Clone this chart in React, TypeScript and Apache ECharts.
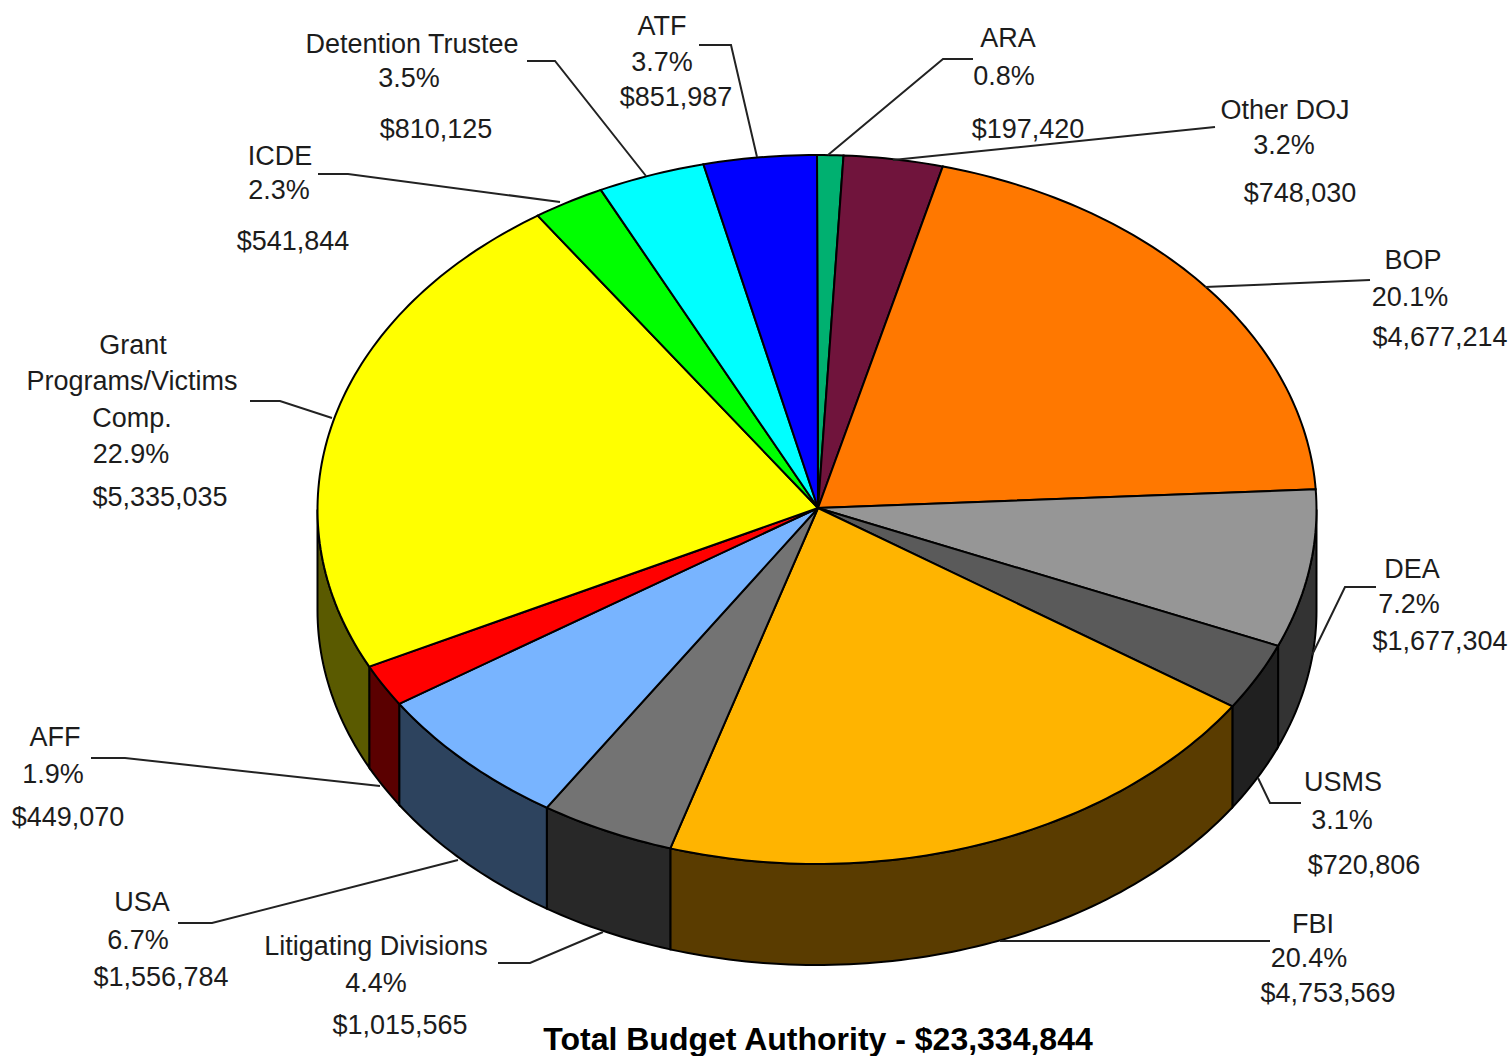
import React, { useEffect, useRef } from "react";
import * as echarts from "echarts";

const agencies = ["ARA", "Other DOJ", "BOP", "DEA", "USMS", "FBI", "Litigating Divisions", "USA", "AFF", "Grant Programs/Victims Comp.", "ICDE", "Detention Trustee", "ATF"];
const budget = [197420, 748030, 4677214, 1677304, 720806, 4753569, 1015565, 1556784, 449070, 5335035, 541844, 810125, 851987];
const topColors = ["#00b070", "#70143c", "#ff7800", "#969696", "#5a5a5a", "#ffb400", "#737373", "#78b4ff", "#ff0000", "#ffff00", "#00ff00", "#00ffff", "#0000ff"];
const wallColors = ["#005a38", "#380a1e", "#5a2d00", "#333333", "#202020", "#5a3c00", "#282828", "#2d435e", "#5a0000", "#5a5a00", "#006000", "#006060", "#000060"];
const title = "Total Budget Authority - $23,334,844";

const CX = 817, CY = 509.5, RX = 499.5, RY = 354.5, DEPTH = 101;

// [text, centre x, centre y]
const labelLines: [string, number, number][] = [
  ["Detention Trustee", 412, 44], ["3.5%", 409, 78], ["$810,125", 436, 129],
  ["ATF", 662, 26], ["3.7%", 662, 62], ["$851,987", 676, 97],
  ["ARA", 1008, 38], ["0.8%", 1004, 76], ["$197,420", 1028, 129],
  ["Other DOJ", 1285, 110], ["3.2%", 1284, 145], ["$748,030", 1300, 193],
  ["BOP", 1413, 260], ["20.1%", 1410, 297], ["$4,677,214", 1440, 337],
  ["DEA", 1412, 569], ["7.2%", 1409, 604], ["$1,677,304", 1440, 641],
  ["USMS", 1343, 782], ["3.1%", 1342, 820], ["$720,806", 1364, 865],
  ["FBI", 1313, 924], ["20.4%", 1309, 958], ["$4,753,569", 1328, 993],
  ["Litigating Divisions", 376, 946], ["4.4%", 376, 983], ["$1,015,565", 400, 1025],
  ["USA", 142, 902], ["6.7%", 138, 940], ["$1,556,784", 161, 977],
  ["AFF", 55, 737], ["1.9%", 53, 774], ["$449,070", 68, 817],
  ["Grant", 133, 345], ["Programs/Victims", 132, 381], ["Comp.", 132, 418], ["22.9%", 131, 454], ["$5,335,035", 160, 497],
  ["ICDE", 280, 156], ["2.3%", 279, 190], ["$541,844", 293, 241],
];

const leaders: number[][][] = [
  [[527, 61], [555, 61], [646, 176]],
  [[699, 45], [731, 45], [757, 157]],
  [[828, 155], [943, 59], [973, 59]],
  [[893, 160], [1215, 127]],
  [[1205, 287], [1370, 280]],
  [[1312, 655], [1345, 587], [1376, 587]],
  [[1258, 778], [1270, 803], [1301, 803]],
  [[1000, 941], [1270, 941]],
  [[498, 963], [530, 963], [603, 932]],
  [[178, 923], [212, 923], [458, 860]],
  [[91, 758], [125, 758], [380, 786]],
  [[250, 401], [280, 401], [332, 418]],
  [[318, 174], [348, 174], [560, 202]],
];

const total = budget.reduce((a, b) => a + b, 0);
const startShare = (i: number) => budget.slice(0, i).reduce((a, b) => a + b, 0) / total;
const pt = (deg: number, dy = 0) => {
  const r = (deg * Math.PI) / 180;
  return [CX + RX * Math.sin(r), CY - RY * Math.cos(r) + dy];
};
const arc = (a: number, b: number, dy = 0) => {
  const out: number[][] = [];
  const n = Math.max(2, Math.ceil(Math.abs(b - a)));
  for (let k = 0; k <= n; k++) out.push(pt(a + ((b - a) * k) / n, dy));
  return out;
};

export default function App() {
  const ref = useRef<HTMLDivElement>(null);
  useEffect(() => {
    const chart = echarts.init(ref.current!, null, { renderer: "svg" });
    const data = agencies.map((name, i) => ({ name, value: budget[i] }));
    chart.setOption({
      animation: false,
      backgroundColor: "#ffffff",
      series: [
        {
          type: "custom",
          coordinateSystem: "none",
          silent: true,
          data,
          renderItem: (params: any) => {
            const i = params.dataIndex;
            const a = Math.max(startShare(i) * 360, 90);
            const b = Math.min(startShare(i + 1) * 360, 270);
            if (b <= a) return null;
            return {
              type: "polygon",
              shape: { points: [...arc(a, b), ...arc(b, a, DEPTH)] },
              style: { fill: wallColors[i], stroke: "#000", lineWidth: 2 },
            };
          },
        },
        {
          type: "custom",
          coordinateSystem: "none",
          silent: true,
          data,
          renderItem: (params: any) => {
            const i = params.dataIndex;
            const a = startShare(i) * 360;
            const b = startShare(i + 1) * 360;
            return {
              type: "polygon",
              shape: { points: [[CX + 1, CY - 1.5], ...arc(a, b)] },
              style: { fill: topColors[i], stroke: "#000", lineWidth: 2 },
            };
          },
        },
      ],
      graphic: [
        ...leaders.map((points) => ({
          type: "polyline",
          silent: true,
          shape: { points },
          style: { fill: "none", stroke: "#222", lineWidth: 2 },
          z: 10,
        })),
        ...labelLines.map(([text, x, y]) => ({
          type: "text",
          silent: true,
          x,
          y,
          style: { text, fill: "#1c1c1c", font: "27px 'Liberation Sans'", textAlign: "center", textVerticalAlign: "middle" },
          z: 11,
        })),
        {
          type: "text",
          silent: true,
          x: 818,
          y: 1039,
          style: { text: title, fill: "#000", font: "bold 32px 'Liberation Sans'", textAlign: "center", textVerticalAlign: "middle" },
          z: 11,
        },
      ],
    });
    return () => chart.dispose();
  }, []);
  return <div ref={ref} style={{ position: "absolute", left: 0, top: 0, width: 1511, height: 1056 }} />;
}
